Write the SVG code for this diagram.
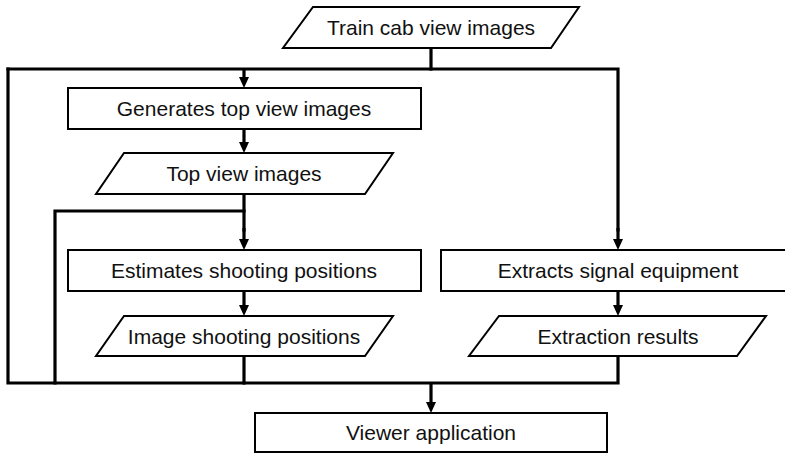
<svg xmlns="http://www.w3.org/2000/svg" width="785" height="453" viewBox="0 0 785 453">
<style>
.shape{fill:#fff;stroke:#000;stroke-width:2}
.lbl{font-family:"Liberation Sans",Arial,sans-serif;font-size:21px;fill:#111;text-anchor:middle}
.conn{fill:none;stroke:#000;stroke-width:3.2;stroke-linejoin:miter;stroke-linecap:square}
.arr{fill:none;stroke:#000;stroke-width:3.2;stroke-linecap:butt;marker-end:url(#ah)}
</style>
<defs>
<marker id="ah" markerUnits="userSpaceOnUse" markerWidth="11" markerHeight="10" viewBox="0 0 11 10" refX="0" refY="5" orient="auto">
<path d="M0,0 L11,5 L0,10 z" fill="#000"/>
</marker>
</defs>
<rect width="785" height="453" fill="#fff"/>
<g id="connectors">
<path class="conn" d="M431,48 V69"/>
<path class="conn" d="M8,69 H618 V230"/>
<path class="conn" d="M8,69 V383 H618 V356"/>
<path class="conn" d="M244,211 H55 V383"/>
<path class="conn" d="M244,194 V230"/>
<path class="conn" d="M244,356 V383"/>
<path class="arr" d="M618,228 V239"/>
<path class="arr" d="M244,69 V77"/>
<path class="arr" d="M244,129 V142"/>
<path class="arr" d="M244,228 V239"/>
<path class="arr" d="M244,291 V305"/>
<path class="arr" d="M618,291 V305"/>
<path class="arr" d="M431,383 V402"/>
</g>
<g id="train-cab-view-images">
<polygon class="shape" points="313,7 579,7 551,48 283,48"/>
<text class="lbl" x="431" y="35">Train cab view images</text>
</g>
<g id="generates-top-view-images">
<rect class="shape" x="68" y="88" width="353" height="41"/>
<text class="lbl" x="244" y="116">Generates top view images</text>
</g>
<g id="top-view-images">
<polygon class="shape" points="124,153 393,153 365,194 96,194"/>
<text class="lbl" x="244" y="181">Top view images</text>
</g>
<g id="estimates-shooting-positions">
<rect class="shape" x="68" y="250" width="353" height="41"/>
<text class="lbl" x="244" y="278">Estimates shooting positions</text>
</g>
<g id="image-shooting-positions">
<polygon class="shape" points="124,316 393,316 365,356 96,356"/>
<text class="lbl" x="244" y="344">Image shooting positions</text>
</g>
<g id="extracts-signal-equipment">
<rect class="shape" x="441" y="250" width="350" height="41"/>
<text class="lbl" x="618" y="278">Extracts signal equipment</text>
</g>
<g id="extraction-results">
<polygon class="shape" points="499,316 766,316 737,356 469,356"/>
<text class="lbl" x="618" y="344">Extraction results</text>
</g>
<g id="viewer-application">
<rect class="shape" x="255" y="413" width="352" height="39"/>
<text class="lbl" x="431" y="440">Viewer application</text>
</g>
</svg>
